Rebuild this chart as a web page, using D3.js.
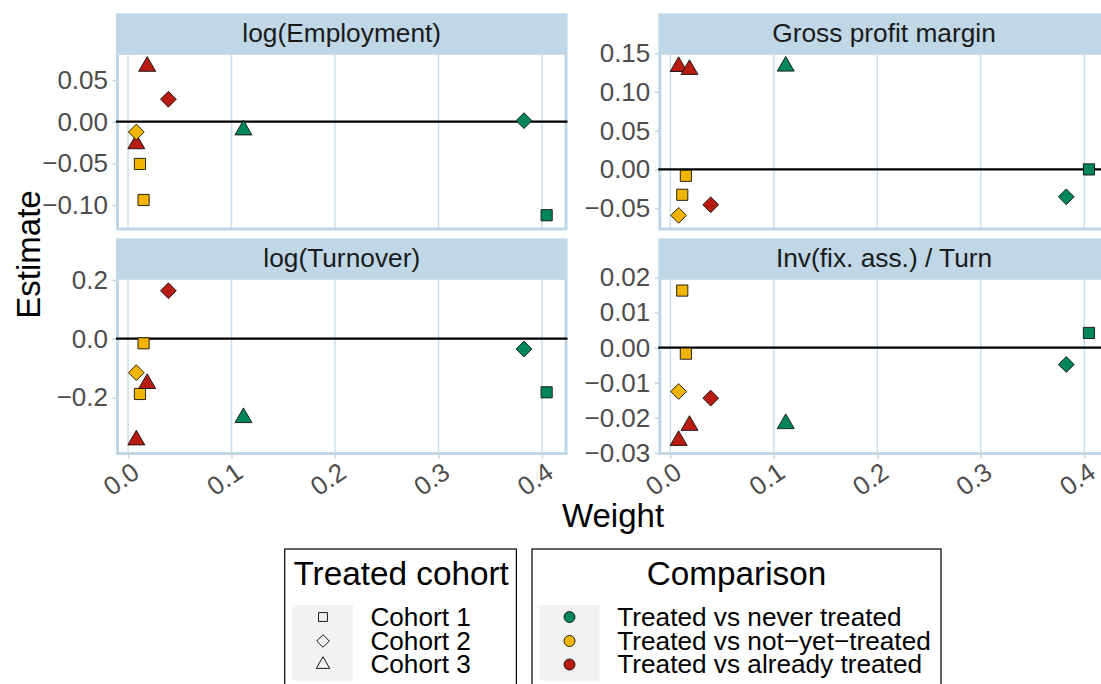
<!DOCTYPE html>
<html><head><meta charset="utf-8">
<script src="https://cdn.jsdelivr.net/npm/d3@7"></script>
<style>
html,body{margin:0;padding:0;background:#fff;}
svg{display:block;font-family:"Liberation Sans",Arial,Helvetica,sans-serif;}
</style></head><body>
<svg id="chart" width="1101" height="684"></svg>
<script>
// ---------------- data ----------------
const outcomes = ["log(Employment)", "Gross profit margin", "log(Turnover)", "Inv(fix. ass.) / Turn"];
const cohorts = ["Cohort 1", "Cohort 2", "Cohort 3"];
const comparisons = ["Treated vs never treated", "Treated vs not\u2212yet\u2212treated", "Treated vs already treated"];
const comparisonColors = ["#00865A", "#F1B400", "#B81B12"];
// one entry per 2x2 comparison (drawing order)
const pointCohort     = [0, 1, 2, 0, 0, 2, 1, 2, 1];
const pointComparison = [0, 0, 0, 1, 1, 2, 1, 2, 2];
const weights         = [0.4045, 0.3826, 0.1115, 0.0115, 0.0150, 0.0080, 0.0080, 0.0185, 0.0390];
const estEmployment   = [-0.1122, 0.0012, -0.0100, -0.0507, -0.0939, -0.0266, -0.0124, 0.0663, 0.0269];
const estGrossProfit  = [0.0000, -0.0354, 0.1333, -0.0328, -0.0083, 0.1328, -0.0594, 0.1290, -0.0457];
const estTurnover     = [-0.1823, -0.0350, -0.2687, -0.1880, -0.0157, -0.3446, -0.1156, -0.1527, 0.1630];
const estInvestment   = [0.0042, -0.0048, -0.0217, 0.0163, -0.0017, -0.0265, -0.0125, -0.0222, -0.0144];
const estimates = [estEmployment, estGrossProfit, estTurnover, estInvestment];

const xTicks = [0, 0.1, 0.2, 0.3, 0.4];
const xTickLabels = ["0.0", "0.1", "0.2", "0.3", "0.4"];
const yTicksEmployment = [-0.10, -0.05, 0, 0.05];
const yLabelsEmployment = ["\u22120.10", "\u22120.05", "0.00", "0.05"];
const yTicksGross = [-0.05, 0, 0.05, 0.10, 0.15];
const yLabelsGross = ["\u22120.05", "0.00", "0.05", "0.10", "0.15"];
const yTicksTurnover = [-0.2, 0, 0.2];
const yLabelsTurnover = ["\u22120.2", "0.0", "0.2"];
const yTicksInv = [-0.03, -0.02, -0.01, 0, 0.01, 0.02];
const yLabelsInv = ["\u22120.03", "\u22120.02", "\u22120.01", "0.00", "0.01", "0.02"];
const yTicks = [yTicksEmployment, yTicksGross, yTicksTurnover, yTicksInv];
const yLabels = [yLabelsEmployment, yLabelsGross, yLabelsTurnover, yLabelsInv];

const xDomain = [-0.0102, 0.4232];
const yDomains = [[-0.1287, 0.0820], [-0.0770, 0.1500], [-0.3905, 0.2054], [-0.0302, 0.0198]];

// ---------------- layout ----------------
const panels = [
  {x0: 117.5, x1: 566, y0: 53.3, y1: 229},
  {x0: 659.8, x1: 1108.3, y0: 53.3, y1: 229},
  {x0: 117.5, x1: 566, y0: 278.3, y1: 453.5},
  {x0: 659.8, x1: 1108.3, y0: 278.3, y1: 453.5}
];
const STRIP_H = 40;
const BLUE = "#BFD7E6";
const GRID = "#C8DDEB";

const svg = d3.select("#chart");
svg.append("rect").attr("width", 1101).attr("height", 684).attr("fill", "#fff");

function shapePath(kind, R) {
  const p = d3.path();
  if (kind === 0) { const s = 0.8862 * R; p.rect(-s, -s, 2 * s, 2 * s); }
  else if (kind === 1) { const d = 1.2533 * R; p.moveTo(0, -d); p.lineTo(d, 0); p.lineTo(0, d); p.lineTo(-d, 0); p.closePath(); }
  else { const r = 1.5551 * R, xc = 1.3468 * R, yc = 0.7776 * R; p.moveTo(0, -r); p.lineTo(xc, yc); p.lineTo(-xc, yc); p.closePath(); }
  return p.toString();
}

panels.forEach((P, k) => {
  const g = svg.append("g");
  const x = d3.scaleLinear().domain(xDomain).range([P.x0, P.x1]);
  const y = d3.scaleLinear().domain(yDomains[k]).range([P.y1, P.y0]);

  // strip
  g.append("rect").attr("x", P.x0 - 1.5).attr("y", P.y0 - STRIP_H)
    .attr("width", P.x1 - P.x0 + 3).attr("height", STRIP_H).attr("fill", BLUE);
  g.append("text").attr("x", (P.x0 + P.x1) / 2).attr("y", P.y0 - STRIP_H + 28.7)
    .attr("text-anchor", "middle").attr("font-size", 26.3).attr("fill", "#1A1A1A")
    .text(outcomes[k]);

  // panel background + border
  g.append("rect").attr("x", P.x0).attr("y", P.y0).attr("width", P.x1 - P.x0)
    .attr("height", P.y1 - P.y0).attr("fill", "#fff").attr("stroke", BLUE).attr("stroke-width", 3);

  // vertical grid
  g.append("g").selectAll("line").data(xTicks).join("line")
    .attr("x1", d => x(d)).attr("x2", d => x(d)).attr("y1", P.y0).attr("y2", P.y1)
    .attr("stroke", GRID).attr("stroke-width", 1.4);

  // y axis
  const ya = g.append("g").attr("transform", `translate(${P.x0 - 1.5},0)`)
    .call(d3.axisLeft(y).tickValues(yTicks[k]).tickFormat((d, i) => yLabels[k][i])
      .tickSize(3.5).tickPadding(4.5));
  ya.select(".domain").remove();
  ya.selectAll(".tick line").attr("stroke", BLUE).attr("stroke-width", 1.5);
  ya.selectAll(".tick text").attr("fill", "#4D4D4D").attr("font-size", 26)
    .attr("font-family", "Liberation Sans, Arial, sans-serif");

  // x axis (bottom row only)
  if (k >= 2) {
    const xa = g.append("g").attr("transform", `translate(0,${P.y1 + 1.5})`)
      .call(d3.axisBottom(x).tickValues(xTicks).tickFormat((d, i) => xTickLabels[i]).tickSize(3.5));
    xa.select(".domain").remove();
    xa.selectAll(".tick line").attr("stroke", BLUE).attr("stroke-width", 1.5);
    xa.selectAll(".tick text").attr("fill", "#4D4D4D").attr("font-size", 26)
      .attr("font-family", "Liberation Sans, Arial, sans-serif")
      .attr("text-anchor", "end").attr("x", 0).attr("y", 0).attr("dy", "0.71em")
      .attr("transform", "translate(2,6) rotate(-35)");
  }

  // zero line
  g.append("line").attr("x1", P.x0 - 1.5).attr("x2", P.x1 + 1.5)
    .attr("y1", y(0)).attr("y2", y(0)).attr("stroke", "#000").attr("stroke-width", 2.2);

  // points
  g.append("g").selectAll("path").data(weights.map((w, i) => i)).join("path")
    .attr("d", i => shapePath(pointCohort[i], 6.3))
    .attr("transform", i => `translate(${x(weights[i])},${y(estimates[k][i])})`)
    .attr("fill", i => comparisonColors[pointComparison[i]])
    .attr("stroke", "#111").attr("stroke-width", 0.9);
});

// axis titles
svg.append("text").attr("x", 613).attr("y", 527).attr("text-anchor", "middle")
  .attr("font-size", 33).attr("fill", "#000").text("Weight");
svg.append("text").attr("transform", "translate(39.5,254.5) rotate(-90)").attr("text-anchor", "middle")
  .attr("font-size", 33).attr("fill", "#000").text("Estimate");

// legends
const keyRows = [617, 641, 664.5];
const labelBase = [626, 650, 673.3];
// Treated cohort
const L1 = svg.append("g");
L1.append("rect").attr("x", 284.7).attr("y", 549).attr("width", 231.7).attr("height", 160)
  .attr("fill", "#fff").attr("stroke", "#000").attr("stroke-width", 1.2);
L1.append("text").attr("x", 293.5).attr("y", 585).attr("font-size", 33.3).text("Treated cohort");
L1.append("rect").attr("x", 292.3).attr("y", 605).attr("width", 60.7).attr("height", 75.7).attr("fill", "#F2F2F2");
cohorts.forEach((c, i) => {
  L1.append("path").attr("d", shapePath(i, 5)).attr("transform", `translate(323,${keyRows[i]})`)
    .attr("fill", "none").attr("stroke", "#000").attr("stroke-width", 0.9);
  L1.append("text").attr("x", 370.4).attr("y", labelBase[i]).attr("font-size", 26.2).text(c);
});
// Comparison
const L2 = svg.append("g");
L2.append("rect").attr("x", 532).attr("y", 549).attr("width", 409).attr("height", 160)
  .attr("fill", "#fff").attr("stroke", "#000").attr("stroke-width", 1.2);
L2.append("text").attr("x", 736.5).attr("y", 585).attr("text-anchor", "middle").attr("font-size", 33.3).text("Comparison");
L2.append("rect").attr("x", 539.6).attr("y", 605).attr("width", 60).attr("height", 75.7).attr("fill", "#F2F2F2");
comparisons.forEach((c, i) => {
  L2.append("circle").attr("cx", 569.5).attr("cy", keyRows[i]).attr("r", 5.5)
    .attr("fill", comparisonColors[i]).attr("stroke", "#111").attr("stroke-width", 0.9);
  L2.append("text").attr("x", 617.3).attr("y", labelBase[i]).attr("font-size", 26.2).text(c);
});
</script>
</body></html>
